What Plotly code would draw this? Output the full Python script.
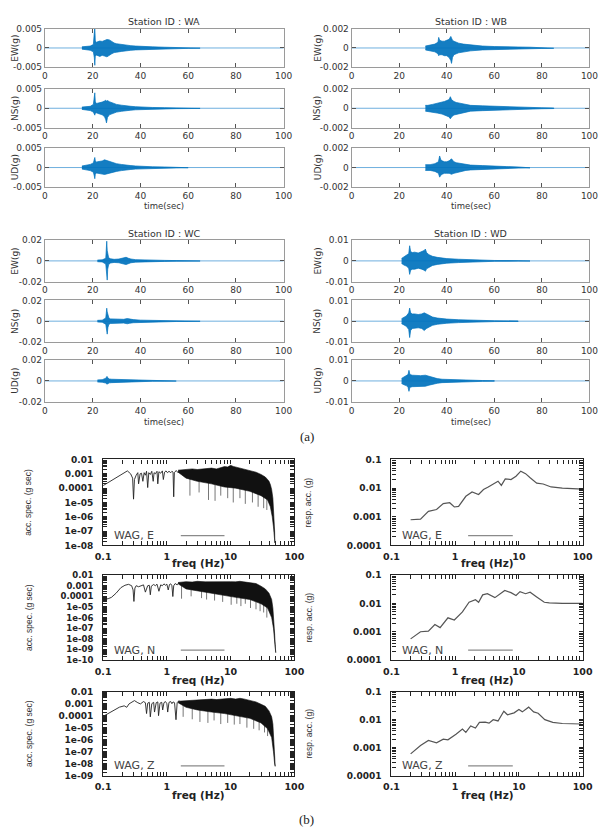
import numpy as np
import plotly.graph_objects as go

# ====================== DATA ======================
RECORD_SPAN = [0, 100]
TIME_TICKS = [0, 20, 40, 60, 80, 100]
STATIONS = ["WA", "WB", "WC", "WD"]
COMPONENTS = ["EW", "NS", "UD"]
AMP_LIMIT = {"WA": 0.005, "WB": 0.002, "WC": 0.02, "WD": 0.01}
AMP_LABELS = {"WA": ["-0.005", "0", "0.005"], "WB": ["-0.002", "0", "0.002"],
              "WC": ["-0.02", "0", "0.02"], "WD": ["-0.01", "0", "0.01"]}

# --- acceleration envelopes (time s, upper g, lower g) ---
WA_EW_T = [15.5, 17, 19, 20.3, 20.7, 20.9, 21.1, 21.5, 22, 23, 24, 25, 26, 27, 28, 29, 30, 32, 34, 36, 38, 40, 45, 50, 55, 60, 65]
WA_EW_UP = [0.0003, 0.0004, 0.0005, 0.0009, 0.0030, 0.0055, 0.0020, 0.0014, 0.0016, 0.0018, 0.0017, 0.0020, 0.0022, 0.0021, 0.0016, 0.0013, 0.0011, 0.0009, 0.0007, 0.0006, 0.0005, 0.0004, 0.0003, 0.0002, 0.00015, 0.0001, 0.00005]
WA_EW_LO = [-0.0003, -0.0004, -0.0006, -0.0010, -0.0025, -0.0045, -0.0022, -0.0018, -0.0020, -0.0022, -0.0019, -0.0021, -0.0023, -0.0019, -0.0015, -0.0012, -0.0011, -0.0009, -0.0007, -0.0006, -0.0005, -0.0004, -0.0003, -0.0002, -0.00015, -0.0001, -0.00005]

WA_NS_T = [15.5, 17, 19, 20.3, 20.7, 20.9, 21.1, 21.5, 22, 23, 24, 25, 25.5, 25.8, 26.2, 27, 28, 29, 30, 32, 34, 36, 38, 40, 45, 50, 55, 60, 65]
WA_NS_UP = [0.0003, 0.0004, 0.0005, 0.0010, 0.0025, 0.0040, 0.0018, 0.0012, 0.0013, 0.0014, 0.0016, 0.0019, 0.0021, 0.0018, 0.0020, 0.0017, 0.0014, 0.0012, 0.0010, 0.0008, 0.0006, 0.0005, 0.0004, 0.0003, 0.0002, 0.00015, 0.0001, 0.00008, 0.00004]
WA_NS_LO = [-0.0003, -0.0004, -0.0006, -0.0010, -0.0015, -0.0018, -0.0013, -0.0012, -0.0013, -0.0014, -0.0017, -0.0022, -0.0030, -0.0038, -0.0024, -0.0017, -0.0014, -0.0012, -0.0010, -0.0008, -0.0006, -0.0005, -0.0004, -0.0003, -0.0002, -0.00015, -0.0001, -0.00008, -0.00004]

WA_UD_T = [15.5, 17, 19, 20.3, 20.7, 20.9, 21.1, 21.5, 22, 23, 24, 25, 26, 27, 28, 30, 32, 34, 36, 38, 40, 45, 50, 55, 60]
WA_UD_UP = [0.0004, 0.0006, 0.0008, 0.0012, 0.0020, 0.0026, 0.0018, 0.0014, 0.0015, 0.0016, 0.0017, 0.0020, 0.0018, 0.0015, 0.0013, 0.0010, 0.0008, 0.0006, 0.0005, 0.0004, 0.0003, 0.0002, 0.00015, 0.0001, 0.00005]
WA_UD_LO = [-0.0004, -0.0006, -0.0008, -0.0012, -0.0022, -0.0029, -0.0018, -0.0014, -0.0015, -0.0016, -0.0017, -0.0018, -0.0017, -0.0015, -0.0013, -0.0010, -0.0008, -0.0006, -0.0005, -0.0004, -0.0003, -0.0002, -0.00015, -0.0001, -0.00005]

WB_EW_T = [31, 33, 35, 36.3, 36.6, 37, 38, 39, 40, 41, 41.7, 42, 42.4, 43, 44, 45, 47, 50, 55, 60, 65, 70, 75, 80, 85]
WB_EW_UP = [0.0002, 0.0003, 0.0004, 0.0006, 0.0011, 0.0008, 0.0007, 0.0007, 0.0008, 0.0009, 0.0012, 0.0010, 0.0008, 0.0007, 0.0006, 0.0005, 0.0004, 0.0003, 0.0002, 0.00015, 0.0001, 0.0001, 0.00008, 0.00005, 0.00003]
WB_EW_LO = [-0.0002, -0.0003, -0.0004, -0.0006, -0.0008, -0.0007, -0.0007, -0.0008, -0.0008, -0.0010, -0.0013, -0.0016, -0.0010, -0.0007, -0.0006, -0.0005, -0.0004, -0.0003, -0.0002, -0.00015, -0.0001, -0.0001, -0.00008, -0.00005, -0.00003]

WB_NS_T = [31, 32, 34, 36, 38, 39, 40, 41, 41.5, 42, 43, 44, 46, 48, 50, 55, 60, 65, 70, 75, 80, 85]
WB_NS_UP = [0.0003, 0.0003, 0.0004, 0.0005, 0.0006, 0.0007, 0.0008, 0.0009, 0.0012, 0.0009, 0.0007, 0.0006, 0.0005, 0.0004, 0.0003, 0.00025, 0.0002, 0.00015, 0.0001, 0.00008, 0.00005, 0.00003]
WB_NS_LO = [-0.0003, -0.0003, -0.0004, -0.0005, -0.0006, -0.0007, -0.0008, -0.0009, -0.0011, -0.0009, -0.0007, -0.0006, -0.0005, -0.0004, -0.0003, -0.00025, -0.0002, -0.00015, -0.0001, -0.00008, -0.00005, -0.00003]

WB_UD_T = [31, 33, 35, 36.5, 37, 37.5, 38, 39, 40, 41, 42, 43, 44, 46, 48, 50, 55, 60, 65, 70, 75]
WB_UD_UP = [0.0003, 0.0003, 0.0004, 0.0006, 0.0012, 0.0008, 0.0007, 0.0006, 0.0006, 0.0007, 0.0009, 0.0006, 0.0005, 0.0004, 0.0003, 0.00025, 0.0002, 0.00012, 0.0001, 0.00006, 0.00003]
WB_UD_LO = [-0.0003, -0.0003, -0.0004, -0.0006, -0.0010, -0.0008, -0.0007, -0.0006, -0.0006, -0.0006, -0.0007, -0.0006, -0.0005, -0.0004, -0.0003, -0.00025, -0.0002, -0.00012, -0.0001, -0.00006, -0.00003]

WC_EW_T = [22, 24, 25.5, 25.9, 26.1, 26.3, 26.7, 27.5, 29, 31, 33, 34, 35, 36, 38, 40, 45, 50, 55, 60, 65]
WC_EW_UP = [0.0008, 0.0010, 0.0025, 0.0190, 0.0100, 0.0060, 0.0030, 0.0020, 0.0015, 0.0018, 0.0030, 0.0035, 0.0025, 0.0018, 0.0012, 0.0010, 0.0007, 0.0005, 0.0003, 0.0002, 0.0001]
WC_EW_LO = [-0.0008, -0.0010, -0.0030, -0.0120, -0.0185, -0.0080, -0.0035, -0.0020, -0.0015, -0.0018, -0.0030, -0.0035, -0.0025, -0.0018, -0.0012, -0.0010, -0.0007, -0.0005, -0.0003, -0.0002, -0.0001]

WC_NS_T = [22, 24, 25.5, 25.9, 26.1, 26.4, 26.8, 27.5, 29, 31, 33, 34.5, 35.5, 37, 40, 45, 50, 55, 60, 65]
WC_NS_UP = [0.0008, 0.0010, 0.0030, 0.0125, 0.0090, 0.0050, 0.0030, 0.0022, 0.0020, 0.0018, 0.0018, 0.0025, 0.0020, 0.0015, 0.0010, 0.0007, 0.0005, 0.0003, 0.0002, 0.0001]
WC_NS_LO = [-0.0008, -0.0010, -0.0030, -0.0080, -0.0125, -0.0060, -0.0030, -0.0022, -0.0020, -0.0018, -0.0018, -0.0025, -0.0020, -0.0015, -0.0010, -0.0007, -0.0005, -0.0003, -0.0002, -0.0001]

WC_UD_T = [22, 24, 25.5, 26, 26.5, 27, 28, 30, 32, 34, 36, 40, 45, 50, 55]
WC_UD_UP = [0.0010, 0.0012, 0.0025, 0.0043, 0.0025, 0.0018, 0.0016, 0.0015, 0.0012, 0.0010, 0.0008, 0.0005, 0.0003, 0.0002, 0.0001]
WC_UD_LO = [-0.0010, -0.0012, -0.0020, -0.0030, -0.0022, -0.0018, -0.0016, -0.0015, -0.0012, -0.0010, -0.0008, -0.0005, -0.0003, -0.0002, -0.0001]

WD_EW_T = [21, 22, 23, 24, 24.4, 24.8, 25.5, 26.5, 28, 29.5, 30.5, 31, 31.5, 32.5, 34, 36, 38, 40, 45, 50, 55, 60, 70, 75]
WD_EW_UP = [0.0012, 0.0020, 0.0025, 0.0035, 0.0073, 0.0045, 0.0040, 0.0042, 0.0038, 0.0045, 0.0050, 0.0057, 0.0040, 0.0030, 0.0022, 0.0017, 0.0013, 0.0011, 0.0008, 0.0005, 0.0003, 0.0002, 0.0001, 0.00005]
WD_EW_LO = [-0.0012, -0.0020, -0.0025, -0.0035, -0.0065, -0.0045, -0.0040, -0.0040, -0.0035, -0.0040, -0.0045, -0.0050, -0.0038, -0.0030, -0.0022, -0.0017, -0.0013, -0.0011, -0.0008, -0.0005, -0.0003, -0.0002, -0.0001, -0.00005]

WD_NS_T = [21, 22, 23, 24, 24.4, 24.8, 25.5, 26.5, 28, 29.5, 30.5, 31.5, 32.5, 34, 36, 38, 40, 45, 50, 55, 60, 70]
WD_NS_UP = [0.0012, 0.0018, 0.0025, 0.0040, 0.0063, 0.0040, 0.0035, 0.0035, 0.0032, 0.0035, 0.0040, 0.0035, 0.0028, 0.0020, 0.0015, 0.0012, 0.0010, 0.0007, 0.0005, 0.0003, 0.0002, 0.0001]
WD_NS_LO = [-0.0012, -0.0018, -0.0025, -0.0040, -0.0079, -0.0045, -0.0035, -0.0035, -0.0032, -0.0035, -0.0045, -0.0035, -0.0028, -0.0020, -0.0015, -0.0012, -0.0010, -0.0007, -0.0005, -0.0003, -0.0002, -0.0001]

WD_UD_T = [21, 22, 23, 23.7, 24.1, 24.5, 25.5, 27, 29, 31, 32.5, 34, 36, 38, 40, 45, 50, 55, 60]
WD_UD_UP = [0.0012, 0.0018, 0.0022, 0.0030, 0.0050, 0.0030, 0.0027, 0.0025, 0.0025, 0.0027, 0.0022, 0.0015, 0.0011, 0.0008, 0.0007, 0.0005, 0.0003, 0.0002, 0.0001]
WD_UD_LO = [-0.0012, -0.0018, -0.0022, -0.0030, -0.0049, -0.0030, -0.0027, -0.0025, -0.0025, -0.0025, -0.0020, -0.0015, -0.0011, -0.0008, -0.0007, -0.0005, -0.0003, -0.0002, -0.0001]

SEISMO = {
    ("WA", "EW"): (WA_EW_T, WA_EW_UP, WA_EW_LO), ("WA", "NS"): (WA_NS_T, WA_NS_UP, WA_NS_LO), ("WA", "UD"): (WA_UD_T, WA_UD_UP, WA_UD_LO),
    ("WB", "EW"): (WB_EW_T, WB_EW_UP, WB_EW_LO), ("WB", "NS"): (WB_NS_T, WB_NS_UP, WB_NS_LO), ("WB", "UD"): (WB_UD_T, WB_UD_UP, WB_UD_LO),
    ("WC", "EW"): (WC_EW_T, WC_EW_UP, WC_EW_LO), ("WC", "NS"): (WC_NS_T, WC_NS_UP, WC_NS_LO), ("WC", "UD"): (WC_UD_T, WC_UD_UP, WC_UD_LO),
    ("WD", "EW"): (WD_EW_T, WD_EW_UP, WD_EW_LO), ("WD", "NS"): (WD_NS_T, WD_NS_UP, WD_NS_LO), ("WD", "UD"): (WD_UD_T, WD_UD_UP, WD_UD_LO),
}

# --- spectra (b) ---
FREQ_TICKS = [0.1, 1, 10, 100]
FREQ_LABELS = ["0.1", "1", "10", "100"]
SPEC_COMPONENTS = ["E", "N", "Z"]
ACC_YLOW_EXP = {"E": -8, "N": -10, "Z": -9}
RESP_YLOW_EXP = -4

# acceleration Fourier spectra: low-frequency trace, dense band (upper / lower edge), deep notches
ACC_E_F = [0.1, 0.12, 0.15, 0.18, 0.21, 0.24, 0.27, 0.29, 0.30, 0.31, 0.33, 0.35, 0.36, 0.38, 0.40, 0.42, 0.44, 0.46, 0.48, 0.50, 0.52, 0.55, 0.58, 0.61, 0.63, 0.66, 0.70, 0.72, 0.75, 0.80, 0.85, 0.88, 0.92, 0.97, 1.02, 1.08, 1.15, 1.2, 1.25, 1.28, 1.31, 1.4, 1.5, 1.6]
ACC_E_V = [1.5e-4, 2.5e-4, 4.5e-4, 8e-4, 1.2e-3, 1.6e-3, 1.0e-3, 5e-4, 1.7e-5, 4e-4, 8e-4, 1.2e-3, 2e-4, 1.0e-3, 1.1e-3, 3e-4, 1.2e-3, 8e-4, 1.5e-3, 1.1e-4, 1.2e-3, 9e-4, 1.5e-3, 3e-4, 1.2e-3, 1.0e-3, 1.5e-3, 2e-4, 1.4e-3, 1.1e-3, 1.6e-3, 4e-4, 1.3e-3, 1.6e-3, 1.2e-3, 1.5e-3, 1.2e-3, 1.5e-3, 1.3e-3, 2.5e-5, 1.2e-3, 1.7e-3, 1.2e-3, 1.8e-3]
ACC_E_HI_F = [1.5, 2, 2.5, 3, 4, 5, 6, 7, 8, 9, 10, 11, 12, 14, 16, 18, 20, 25, 30, 35, 38, 40, 42, 44, 46, 47, 48, 49, 49.5]
ACC_E_HI_V = [1.8e-3, 2.0e-3, 2.2e-3, 2.0e-3, 2.3e-3, 2.5e-3, 2.2e-3, 2.8e-3, 3.2e-3, 3.0e-3, 3.9e-3, 3.3e-3, 3.0e-3, 2.5e-3, 2.2e-3, 2.0e-3, 1.8e-3, 1.3e-3, 9e-4, 6e-4, 4e-4, 3e-4, 1.8e-4, 8e-5, 2e-5, 5e-6, 1e-6, 1e-7, 1.5e-8]
ACC_E_LO_F = [1.5, 2, 3, 5, 8, 12, 20, 30, 38, 42, 45, 47, 48.5, 49.5]
ACC_E_LO_V = [1.3e-3, 5e-4, 3e-4, 2e-4, 1.2e-4, 1e-4, 6e-5, 3e-5, 1.5e-5, 5e-6, 1e-6, 2e-7, 3e-8, 1.5e-8]
ACC_E_NOTCH_F = [2.3, 3.2, 4.5, 5.7, 7.0, 9.0, 11, 14, 17, 22, 27, 33, 37]
ACC_E_NOTCH_V = [3e-5, 5e-5, 1.5e-5, 1.3e-5, 3e-5, 2e-5, 1e-5, 2e-5, 8e-6, 1e-5, 5e-6, 4e-6, 3e-6]

ACC_N_F = [0.1, 0.12, 0.135, 0.16, 0.19, 0.22, 0.25, 0.28, 0.295, 0.304, 0.315, 0.33, 0.36, 0.40, 0.43, 0.46, 0.50, 0.53, 0.55, 0.57, 0.62, 0.66, 0.70, 0.75, 0.80, 0.85, 0.9, 0.95, 1.0, 1.05, 1.1, 1.15, 1.2, 1.24, 1.28, 1.35, 1.45, 1.55]
ACC_N_V = [5e-5, 6e-5, 8e-5, 2e-4, 6.6e-4, 1.1e-3, 1.35e-3, 1.0e-3, 4e-4, 3.3e-5, 6e-4, 1.0e-3, 8e-4, 1.1e-3, 1.2e-3, 2.5e-4, 1.0e-3, 1.1e-3, 1.4e-4, 9e-4, 1.3e-3, 1.0e-3, 1.4e-3, 3e-4, 1.2e-3, 1.0e-3, 1.5e-3, 1.1e-3, 1.4e-3, 4e-4, 1.3e-3, 1.5e-3, 1.0e-3, 9.6e-5, 1.0e-3, 1.6e-3, 1.2e-3, 2e-3]
ACC_N_HI_F = [1.5, 2, 2.5, 3, 4, 5, 6, 8, 10, 12, 14, 16, 20, 25, 30, 35, 40, 44, 46, 48, 49, 50, 51]
ACC_N_HI_V = [2.0e-3, 2.4e-3, 2.2e-3, 2.6e-3, 2.3e-3, 2.4e-3, 2.2e-3, 2.3e-3, 2.4e-3, 2.3e-3, 2.6e-3, 2.3e-3, 2.0e-3, 1.6e-3, 9e-4, 5e-4, 2e-4, 5e-5, 8e-6, 5e-7, 3e-8, 3e-9, 5e-10]
ACC_N_LO_F = [1.5, 2, 3, 5, 8, 12, 20, 30, 38, 44, 47, 49, 51]
ACC_N_LO_V = [1.5e-3, 5e-4, 3e-4, 2e-4, 1.2e-4, 8e-5, 5e-5, 2e-5, 8e-6, 1e-6, 1e-7, 5e-9, 5e-10]
ACC_N_NOTCH_F = [1.7, 2.4, 3.5, 4.2, 5.6, 7.5, 10.2, 12.5, 14.5, 17, 20.5, 25, 29, 33, 37]
ACC_N_NOTCH_V = [6e-5, 1e-4, 6.8e-5, 5e-5, 4e-5, 3e-5, 1.6e-5, 2e-5, 1.2e-5, 2e-5, 8e-6, 6e-6, 4e-6, 3e-6, 1e-6]

ACC_Z_F = [0.1, 0.134, 0.18, 0.214, 0.235, 0.255, 0.28, 0.31, 0.35, 0.385, 0.43, 0.46, 0.48, 0.50, 0.53, 0.55, 0.58, 0.62, 0.64, 0.68, 0.72, 0.74, 0.78, 0.83, 0.86, 0.9, 0.95, 1.0, 1.03, 1.08, 1.15, 1.2, 1.25, 1.32, 1.39, 1.45, 1.55]
ACC_Z_V = [8.7e-5, 2.2e-4, 5.1e-4, 6.6e-4, 5e-4, 9.6e-4, 1.4e-3, 1.8e-3, 1.2e-3, 9.6e-4, 1.5e-3, 1.2e-3, 1.5e-4, 1.1e-3, 1.3e-3, 8e-5, 1.0e-3, 1.3e-3, 2e-4, 1.2e-3, 1.4e-3, 1e-4, 1.1e-3, 1.3e-3, 3e-4, 1.2e-3, 1.5e-3, 1.0e-3, 2e-4, 1.3e-3, 1.5e-3, 1.0e-3, 1.4e-3, 1.2e-3, 4.6e-5, 1.2e-3, 1.8e-3]
ACC_Z_HI_F = [1.5, 2, 2.5, 3, 4, 5, 6, 8, 10, 12, 14, 16, 20, 25, 30, 35, 40, 44, 46, 48, 49, 50]
ACC_Z_HI_V = [1.6e-3, 1.8e-3, 2.0e-3, 1.9e-3, 2.2e-3, 2.4e-3, 2.2e-3, 2.5e-3, 2.8e-3, 2.4e-3, 2.8e-3, 2.5e-3, 2.0e-3, 1.4e-3, 9e-4, 6e-4, 2.5e-4, 8e-5, 2e-5, 1e-6, 5e-8, 6e-9]
ACC_Z_LO_F = [1.5, 2, 3, 5, 8, 12, 20, 30, 38, 44, 47, 49, 50]
ACC_Z_LO_V = [1.2e-3, 5e-4, 3e-4, 2e-4, 1.5e-4, 1e-4, 6e-5, 2.5e-5, 8e-6, 1.5e-6, 1e-7, 1e-8, 6e-9]
ACC_Z_NOTCH_F = [1.8, 2.5, 3.3, 4.4, 5.5, 7, 9, 11.4, 14, 18, 23, 28, 34, 38]
ACC_Z_NOTCH_V = [8e-5, 5e-5, 3e-5, 2.5e-5, 4e-5, 2e-5, 2.5e-5, 1.8e-5, 2e-5, 1e-5, 8e-6, 6e-6, 4e-6, 2e-6]

# response spectra
RESP_E_F = [0.20, 0.286, 0.38, 0.51, 0.65, 0.82, 0.97, 1.13, 1.47, 1.84, 2.33, 2.78, 3.3, 4.2, 4.7, 5.3, 6.1, 7.5, 9.0, 10.7, 12.7, 15, 19, 24, 32, 48, 87, 100]
RESP_E_V = [7.9e-4, 8.3e-4, 1.55e-3, 1.8e-3, 2.9e-3, 3.1e-3, 2.2e-3, 2.3e-3, 5.2e-3, 7.4e-3, 6e-3, 8.9e-3, 1.1e-2, 1.5e-2, 1.75e-2, 1.25e-2, 2.1e-2, 2.0e-2, 2.6e-2, 3.9e-2, 3.2e-2, 2.3e-2, 1.5e-2, 1.4e-2, 1.1e-2, 1.0e-2, 9.4e-3, 9.3e-3]
RESP_N_F = [0.20, 0.286, 0.38, 0.48, 0.58, 0.77, 0.97, 1.3, 1.65, 2.08, 2.33, 2.7, 3.2, 4.2, 6.0, 7.5, 9.0, 10.4, 12.7, 15, 19, 25, 30, 48, 99]
RESP_N_V = [5.6e-4, 1.0e-3, 1.05e-3, 1.8e-3, 1.4e-3, 3.1e-3, 2.6e-3, 5e-3, 1.1e-2, 1.35e-2, 1.1e-2, 2.0e-2, 2.2e-2, 1.6e-2, 2.85e-2, 2.4e-2, 1.9e-2, 2.6e-2, 2.2e-2, 2.5e-2, 1.7e-2, 1.1e-2, 1.05e-2, 1.0e-2, 1.0e-2]
RESP_Z_F = [0.20, 0.286, 0.38, 0.51, 0.65, 0.77, 1.03, 1.3, 1.47, 1.75, 2.08, 2.4, 2.95, 3.4, 3.95, 4.7, 5.8, 6.6, 8.4, 10, 11.3, 14.2, 17, 20, 25.5, 34, 48, 95]
RESP_Z_V = [6e-4, 1.2e-3, 1.8e-3, 1.5e-3, 2e-3, 1.9e-3, 3e-3, 4.6e-3, 3.5e-3, 6e-3, 5e-3, 8e-3, 8.2e-3, 7.5e-3, 1e-2, 9e-3, 2e-2, 1.5e-2, 1.75e-2, 2.3e-2, 1.9e-2, 2.8e-2, 1.9e-2, 1.7e-2, 1e-2, 8e-3, 7.3e-3, 7e-3]

ACC = {
    "E": (ACC_E_F, ACC_E_V, ACC_E_HI_F, ACC_E_HI_V, ACC_E_LO_F, ACC_E_LO_V, ACC_E_NOTCH_F, ACC_E_NOTCH_V),
    "N": (ACC_N_F, ACC_N_V, ACC_N_HI_F, ACC_N_HI_V, ACC_N_LO_F, ACC_N_LO_V, ACC_N_NOTCH_F, ACC_N_NOTCH_V),
    "Z": (ACC_Z_F, ACC_Z_V, ACC_Z_HI_F, ACC_Z_HI_V, ACC_Z_LO_F, ACC_Z_LO_V, ACC_Z_NOTCH_F, ACC_Z_NOTCH_V),
}
RESP = {"E": (RESP_E_F, RESP_E_V), "N": (RESP_N_F, RESP_N_V), "Z": (RESP_Z_F, RESP_Z_V)}

for k, v in SEISMO.items():
    assert len(v[0]) == len(v[1]) == len(v[2]), k
for k, v in ACC.items():
    assert len(v[0]) == len(v[1]) and len(v[2]) == len(v[3]) and len(v[4]) == len(v[5]) and len(v[6]) == len(v[7]), k
for k, v in RESP.items():
    assert len(v[0]) == len(v[1]), k

# ====================== LAYOUT / STYLE ======================
W, H = 615, 835
BLUE = "#0072BD"
TOP_COLS = {"WA": (38, 284), "WB": (354, 599), "WC": (38, 284), "WD": (354, 599)}
TOP_ROWS = {"WA": [(24, 63), (85, 124), (145, 184)], "WB": [(24, 63), (85, 124), (145, 184)],
            "WC": [(238, 280), (299, 341), (359, 402)], "WD": [(238, 280), (299, 341), (359, 402)]}
TITLE_Y = {"WA": 17, "WB": 17, "WC": 231, "WD": 231}
TIMELAB_Y = {"WA": 203, "WB": 203, "WC": 422, "WD": 422}
YLAB_X = {"WA": 7, "WB": 319, "WC": 7, "WD": 319}

BOT_COLS = {"acc": (98, 295), "resp": (395, 592)}
BOT_ROWS = {"E": (460, 547), "N": (577, 663), "Z": (695, 780)}
FREQLAB_Y = {"E": 565, "N": 683, "Z": 800}

TOP_FONT = dict(family="DejaVu Sans, Liberation Sans, Arial", size=9, color="#333")
BOT_FONT = dict(family="DejaVu Sans, Arial", size=9, color="#222", weight="bold")


def xd(a, b):
    return [a / W, b / W]


def yd(top, bottom):
    return [1 - bottom / H, 1 - top / H]


def P(x, y):
    return x / W, 1 - y / H


fig = go.Figure()
layout = dict(width=W, height=H, margin=dict(l=0, r=0, t=0, b=0),
              paper_bgcolor="white", plot_bgcolor="white", showlegend=False)
annotations = []
shapes = []
counter = [0]


def axis_names():
    counter[0] += 1
    n = counter[0]
    return (("xaxis" if n == 1 else f"xaxis{n}"), ("yaxis" if n == 1 else f"yaxis{n}"),
            ("x" if n == 1 else f"x{n}"), ("y" if n == 1 else f"y{n}"))


def new_axes(xdom, ydom, xcfg, ycfg):
    sx, sy, rx, ry = axis_names()
    layout[sx] = dict(domain=xdom, anchor=ry, **xcfg)
    layout[sy] = dict(domain=ydom, anchor=rx, **ycfg)
    return rx, ry


def ann(text, x, y, font, angle=0, xanchor="center", yanchor="middle"):
    ax, ay = P(x, y)
    annotations.append(dict(text=text, x=ax, y=ay, xref="paper", yref="paper", showarrow=False,
                            font=font, textangle=angle, xanchor=xanchor, yanchor=yanchor))


# ---------- (a) acceleration records ----------
for st in STATIONS:
    lim = AMP_LIMIT[st]
    x0, x1 = TOP_COLS[st]
    for ci, comp in enumerate(COMPONENTS):
        t0, t1 = TOP_ROWS[st][ci]
        xcfg = dict(range=[RECORD_SPAN[0], RECORD_SPAN[1]], tickvals=TIME_TICKS, ticks="inside", ticklen=4,
                    tickcolor="#555", showline=True, linecolor="#9a9a9a", linewidth=1, mirror="ticks",
                    showgrid=False, zeroline=False, tickfont=TOP_FONT, ticklabelstandoff=0, fixedrange=True)
        ycfg = dict(range=[-lim, lim], tickvals=[-lim, 0, lim], ticktext=AMP_LABELS[st], ticks="inside",
                    ticklen=4, tickcolor="#555", showline=True, linecolor="#9a9a9a", linewidth=1,
                    mirror="ticks", showgrid=False, zeroline=False, tickfont=TOP_FONT, fixedrange=True)
        rx, ry = new_axes(xd(x0, x1), yd(t0, t1), xcfg, ycfg)
        t, up, lo = SEISMO[(st, comp)]
        fig.add_trace(go.Scatter(x=RECORD_SPAN, y=[0, 0], xaxis=rx, yaxis=ry, mode="lines",
                                 line=dict(color="#4a9ad6", width=0.8), hoverinfo="skip"))
        fig.add_trace(go.Scatter(x=list(t) + list(t)[::-1], y=list(up) + list(lo)[::-1], xaxis=rx, yaxis=ry,
                                 mode="lines", fill="toself", fillcolor="rgba(0,114,189,0.92)",
                                 line=dict(color=BLUE, width=0.7), hoverinfo="skip"))
        ann(f"{comp}(g)", YLAB_X[st], (t0 + t1) / 2, TOP_FONT, angle=-90)
    ann(f"Station ID : {st}", (x0 + x1) / 2, TITLE_Y[st], dict(TOP_FONT, size=9.5))
    ann("time(sec)", (x0 + x1) / 2, TIMELAB_Y[st], dict(TOP_FONT, size=8.5))

ann("(a)", 308, 437, dict(family="Liberation Serif, Times New Roman", size=13, color="#222"))
ann("(b)", 308, 824, dict(family="Liberation Serif, Times New Roman", size=13, color="#222"))

# ---------- (b) spectra ----------


def log_axis(lo_exp, hi_exp, labels_by_exp, fsize):
    """Log axis: labelled decade ticks plus unlabelled 2..9 ticks, all inside and mirrored."""
    vals, text = [], []
    for e in range(lo_exp, hi_exp + 1):
        vals.append(10.0 ** e)
        text.append(labels_by_exp(e))
        if e < hi_exp:
            for k in range(2, 10):
                vals.append(k * 10.0 ** e)
                text.append("")
    return dict(type="log", range=[lo_exp, hi_exp], tickvals=vals, ticktext=text, ticks="inside",
                ticklen=4, tickwidth=1, tickcolor="#222", showline=True, linecolor="#222", linewidth=1.2,
                mirror="ticks", showgrid=False, zeroline=False, tickfont=dict(BOT_FONT, size=fsize),
                fixedrange=True)


def dec_label(e):
    return {-1: "0.1", -2: "0.01", -3: "0.001", -4: "0.0001"}.get(e, f"1e-{-e:02d}")


def freq_label(e):
    return FREQ_LABELS[[round(np.log10(x)) for x in FREQ_TICKS].index(e)]


xcfg_b = log_axis(-1, 2, freq_label, 9.5)
xcfg_b["ticklabelstandoff"] = 2
GRAY_LEG = "#8a8a8a"
LEG_FONT = dict(family="DejaVu Sans, Arial", size=11, color="#444")
NARROW = dict(family="Liberation Sans Narrow, Liberation Sans, Arial", size=8.5, color="#333")
for comp in SPEC_COMPONENTS:
    t0, t1 = BOT_ROWS[comp]
    # acceleration spectrum
    lo_e = ACC_YLOW_EXP[comp]
    ycfg = log_axis(lo_e, -2, dec_label, 9 if lo_e > -10 else 8.5)
    ycfg["ticklabelstandoff"] = 7
    x0, x1 = BOT_COLS["acc"]
    rx, ry = new_axes(xd(x0, x1), yd(t0, t1), dict(xcfg_b), ycfg)
    f, v, hf, hv, lf, lv, nf, nv = ACC[comp]
    lf_log, lv_log = np.log10(lf), np.log10(lv)
    sx, sy = [], []
    for fn, vn in zip(nf, nv):
        top = 10 ** np.interp(np.log10(fn), lf_log, lv_log) * 1.2
        sx += [fn, fn, None]
        sy += [vn, top, None]
    fig.add_trace(go.Scatter(x=sx, y=sy, xaxis=rx, yaxis=ry, mode="lines",
                             line=dict(color="#777", width=1), hoverinfo="skip"))
    fig.add_trace(go.Scatter(x=list(hf) + list(lf)[::-1], y=list(hv) + list(lv)[::-1], xaxis=rx, yaxis=ry,
                             mode="lines", fill="toself", fillcolor="#111",
                             line=dict(color="#111", width=0.6), hoverinfo="skip"))
    fig.add_trace(go.Scatter(x=f, y=v, xaxis=rx, yaxis=ry, mode="lines",
                             line=dict(color="#222", width=0.9), hoverinfo="skip"))
    ann("acc. spec. (g sec)", 21, (t0 + t1) / 2, NARROW, angle=-90)
    ann("freq (Hz)", (x0 + x1) / 2, FREQLAB_Y[comp], dict(BOT_FONT, size=10.5))
    ann(f"WAG, {comp}", x0 + 9, t1 - 10, LEG_FONT, xanchor="left")
    shapes.append(dict(type="line", xref="paper", yref="paper", x0=178 / W, x1=223 / W,
                       y0=1 - (t1 - 10) / H, y1=1 - (t1 - 10) / H, line=dict(color=GRAY_LEG, width=1.2)))

    # response spectrum
    ycfg = log_axis(RESP_YLOW_EXP, -1, dec_label, 9)
    ycfg["ticklabelstandoff"] = 7
    x0, x1 = BOT_COLS["resp"]
    rx, ry = new_axes(xd(x0, x1), yd(t0, t1), dict(xcfg_b), ycfg)
    rf, rv = RESP[comp]
    fig.add_trace(go.Scatter(x=rf, y=rv, xaxis=rx, yaxis=ry, mode="lines",
                             line=dict(color="#555", width=1.2), hoverinfo="skip"))
    ann("resp. acc. (g)", 310, (t0 + t1) / 2, NARROW, angle=-90)
    ann("freq (Hz)", (x0 + x1) / 2, FREQLAB_Y[comp], dict(BOT_FONT, size=10.5))
    ann(f"WAG, {comp}", x0 + 9, t1 - 10, LEG_FONT, xanchor="left")
    shapes.append(dict(type="line", xref="paper", yref="paper", x0=474 / W, x1=520 / W,
                       y0=1 - (t1 - 10) / H, y1=1 - (t1 - 10) / H, line=dict(color=GRAY_LEG, width=1.2)))

layout["annotations"] = annotations
layout["shapes"] = shapes
fig.update_layout(**layout)
fig.write_html("out.html")
